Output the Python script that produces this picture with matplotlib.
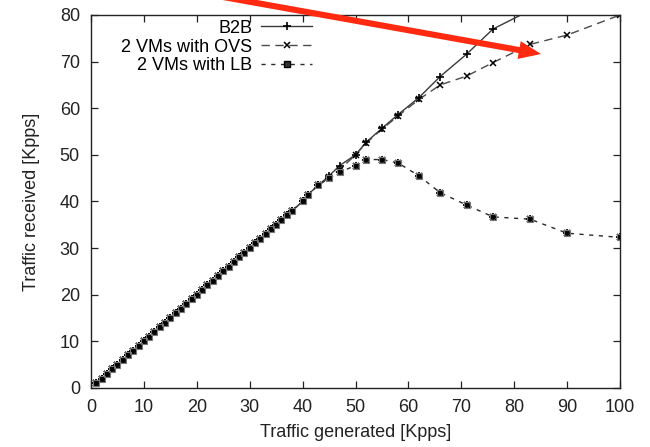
import matplotlib
matplotlib.use("Agg")
import matplotlib.pyplot as plt
from matplotlib.patches import FancyArrowPatch
from matplotlib.lines import Line2D

plt.rcParams['font.family'] = ['Liberation Sans', 'DejaVu Sans']

# Traffic generated [Kpps]
x_gen = [1, 2, 3, 4, 5, 6, 7, 8, 9, 10, 11, 12, 13, 14, 15, 16, 17, 18, 19, 20,
         21, 22, 23, 24, 25, 26, 27, 28, 29, 30, 31, 32, 33, 34, 35, 36, 37, 38,
         40, 41, 43, 45, 47, 50, 52, 55, 58, 62, 66, 71, 76, 83, 90, 100]

b2b = [1, 2, 3, 4, 5, 6, 7, 8, 9, 10, 11, 12, 13, 14, 15, 16, 17, 18, 19, 20,
       21, 22, 23, 24, 25, 26, 27, 28, 29, 30, 31, 32, 33, 34, 35, 36, 37, 38,
       40, 41.5, 43.5, 45.5, 47.7, 50, 52.7, 55.7, 58.6, 62.3, 66.8, 71.6, 77.0, 81.0]

ovs = [1, 2, 3, 4, 5, 6, 7, 8, 9, 10, 11, 12, 13, 14, 15, 16, 17, 18, 19, 20,
       21, 22, 23, 24, 25, 26, 27, 28, 29, 30, 31, 32, 33, 34, 35, 36, 37, 38,
       40, 41.5, 43.5, 45.3, 46.8, 50, 52.5, 55.5, 58.3, 61.9, 65.0, 66.9, 69.8, 73.7, 75.7, 80.0]

lb = [1, 2, 3, 4, 5, 6, 7, 8, 9, 10, 11, 12, 13, 14, 15, 16, 17, 18, 19, 20,
      21, 22, 23, 24, 25, 26, 27, 28, 29, 30, 31, 32, 33, 34, 35, 36, 37, 38,
      40, 41.5, 43.5, 45.0, 46.3, 47.7, 49.0, 49.0, 48.3, 45.5, 41.9, 39.25, 36.7, 36.2, 33.2, 32.3]

labels = ["B2B", "2 VMs with OVS", "2 VMs with LB"]
x_ticks = [0, 10, 20, 30, 40, 50, 60, 70, 80, 90, 100]
y_ticks = [0, 10, 20, 30, 40, 50, 60, 70, 80]

fig = plt.figure(figsize=(6.5, 4.47), dpi=100)
ax = fig.add_axes([91/650, 1 - 388/447, (620-91)/650, (388-15)/447])

ax.plot(x_gen[:len(b2b)], b2b, color='#3a3a3a', lw=1.0, marker='+', ms=6,
        mew=1.2, mec='black')
ax.plot(x_gen, ovs, color='#4a4a4a', lw=1.0, ls=(0, (6, 4)), marker='x', ms=5,
        mew=1.1, mec='black')
ax.plot(x_gen, lb, color='#2a2a2a', lw=1.0, ls=(0, (3, 4)), marker='+', ms=6,
        mew=1.3, mec='black')
ax.plot(x_gen, lb, ls='none', marker='x', ms=5, mew=1.3, mec='black')
ax.plot(x_gen, lb, ls='none', marker='s', ms=4.5, mfc='none', mew=0.8, mec='#777777')

ax.set_xlim(0, 100)
ax.set_ylim(0, 80)
ax.set_xticks(x_ticks)
ax.set_yticks(y_ticks)
ax.tick_params(direction='in', top=True, right=True, length=5, width=0.9,
               labelsize=13, colors='#222222', pad=8)
for s in ax.spines.values():
    s.set_color('#222222')
    s.set_linewidth(1.0)

ax.set_xlabel("Traffic generated [Kpps]", fontsize=13, color='#222222', labelpad=6)
ax.set_ylabel("Traffic received [Kpps]", fontsize=13, color='#222222', labelpad=14)

handles = [
    Line2D([], [], color='#3a3a3a', lw=1.0, marker='+', ms=6, mew=1.2, mec='black'),
    Line2D([], [], color='#4a4a4a', lw=1.0, ls=(0, (6, 4)), marker='x', ms=5, mew=1.1, mec='black'),
    Line2D([], [], color='#2a2a2a', lw=1.0, ls=(0, (3, 4)), marker='s', ms=4, mew=1.0,
           mec='black', mfc='#333333'),
]
leg = ax.legend(handles, labels, loc='upper right', bbox_to_anchor=(0.445, 1.026),
                markerfirst=False, frameon=False, fontsize=13, handlelength=2.8,
                handletextpad=0.5, labelspacing=0.1, borderpad=0.3)

# red arrow (figure pixel positions, origin top-left)
def fp(px, py):
    return (px / 650, 1 - py / 447)

arrow = FancyArrowPatch(fp(212, -5), fp(541, 54), transform=fig.transFigure,
                        arrowstyle='simple,head_length=0.8,head_width=0.65,tail_width=0.22',
                        mutation_scale=20, color='#ff2a10', lw=0,
                        shrinkA=0, shrinkB=0, zorder=10)
fig.patches.append(arrow)

fig.savefig("out.png", dpi=100)
